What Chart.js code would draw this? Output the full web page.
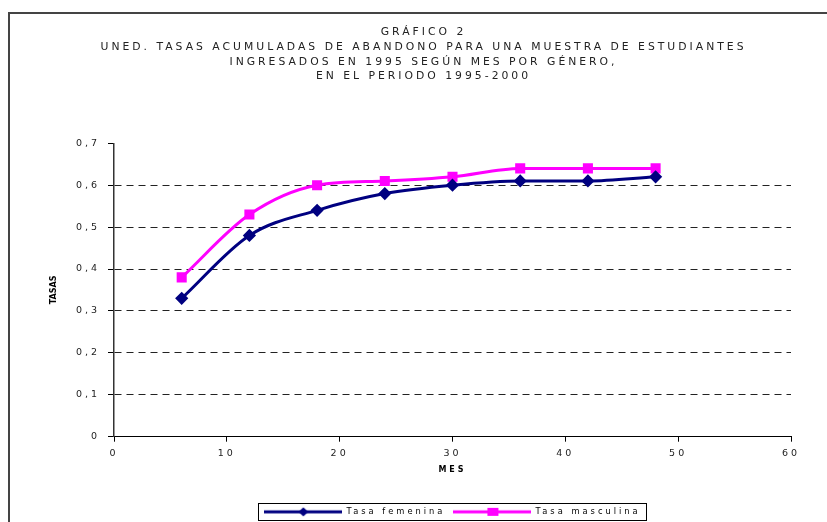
<!DOCTYPE html>
<html><head><meta charset="utf-8">
<script src="https://cdn.jsdelivr.net/npm/chart.js@4/dist/chart.umd.min.js"></script>
<style>html,body{margin:0;padding:0;background:#fff;}#wrap{width:827px;height:522px;position:relative;}</style>
</head><body><div id="wrap"><canvas id="c" width="827" height="522"></canvas></div>
<script>
const months = [6, 12, 18, 24, 30, 36, 42, 48];
const tasaFemenina = [0.33, 0.48, 0.54, 0.58, 0.60, 0.61, 0.61, 0.62];
const tasaMasculina = [0.38, 0.53, 0.60, 0.61, 0.62, 0.64, 0.64, 0.64];
const seriesNames = ['Tasa femenina', 'Tasa masculina'];
const titleLines = ['GRÁFICO 2', 'UNED. TASAS ACUMULADAS DE ABANDONO PARA UNA MUESTRA DE ESTUDIANTES', 'INGRESADOS EN 1995 SEGÚN MES POR GÉNERO,', 'EN EL PERIODO 1995-2000'];
const xTitle = 'MES';
const yTitle = 'TASAS';

const NAVY = '#000080', MAG = '#FF00FF';
function legendIcon(color, style) {
  const cv = document.createElement('canvas');
  cv.width = 78; cv.height = 12;
  const g = cv.getContext('2d');
  g.strokeStyle = color; g.lineWidth = 3;
  g.beginPath(); g.moveTo(0, 6); g.lineTo(78, 6); g.stroke();
  g.fillStyle = color;
  if (style === 'diamond') {
    g.beginPath(); g.moveTo(39, 1.5); g.lineTo(44, 6); g.lineTo(39, 10.5); g.lineTo(34, 6); g.closePath(); g.fill();
  } else {
    g.fillRect(34, 2, 11, 8);
  }
  return cv;
}
const icons = [legendIcon(NAVY, 'diamond'), legendIcon(MAG, 'square')];

const spacingPlugin = {
  id: 'spacing',
  beforeUpdate(chart) { chart.ctx.letterSpacing = '3px'; },
  afterLayout(chart) {
    if (chart.titleBlock) { chart.titleBlock.left += 23; chart.titleBlock.right += 23; }
  },
  beforeDraw(chart) {
    const ctx = chart.ctx;
    ctx.letterSpacing = '3px';
    ctx.save();
    ctx.fillStyle = '#fff'; ctx.fillRect(0, 0, chart.width, chart.height);
    ctx.strokeStyle = '#444'; ctx.lineWidth = 2;
    ctx.beginPath(); ctx.moveTo(9, 522); ctx.lineTo(9, 13); ctx.lineTo(827, 13); ctx.stroke();
    ctx.restore();
  },
  afterDraw(chart) {
    const ctx = chart.ctx;
    const ca = chart.chartArea;
    ctx.save();
    ctx.letterSpacing = '0px';
    ctx.translate(54, (ca.top + ca.bottom) / 2);
    ctx.rotate(-Math.PI / 2);
    ctx.font = 'bold 8px "DejaVu Sans", Verdana, sans-serif';
    ctx.fillStyle = '#000'; ctx.textAlign = 'center'; ctx.textBaseline = 'middle';
    ctx.fillText(yTitle, 0, 0);
    ctx.restore();
    const hb = chart.legend.legendHitBoxes;
    if (!hb || !hb.length) return;
    let l = Infinity, r = -Infinity, t = Infinity, b = -Infinity;
    hb.forEach(h => { l = Math.min(l, h.left); r = Math.max(r, h.left + h.width); t = Math.min(t, h.top); b = Math.max(b, h.top + h.height); });
    ctx.save(); ctx.strokeStyle = '#000'; ctx.lineWidth = 1;
    ctx.strokeRect(Math.round(l - 6) + 0.5, Math.round(t - 5) + 0.5, Math.round(r - l + 12), Math.round(b - t + 9));
    ctx.restore();
  }
};

Chart.defaults.font.family = '"DejaVu Sans", Verdana, sans-serif';
Chart.defaults.color = '#222';

new Chart(document.getElementById('c'), {
  type: 'line',
  data: {
    datasets: [
      { label: seriesNames[0], data: months.map((m, i) => ({ x: m, y: tasaFemenina[i] })), borderColor: NAVY, backgroundColor: NAVY, borderWidth: 3, pointStyle: 'rectRot', pointRadius: 4.5, tension: 0.4, cubicInterpolationMode: 'monotone' },
      { label: seriesNames[1], data: months.map((m, i) => ({ x: m, y: tasaMasculina[i] })), borderColor: MAG, backgroundColor: MAG, borderWidth: 3, pointStyle: 'rect', pointRadius: 5, tension: 0.4, cubicInterpolationMode: 'monotone' }
    ]
  },
  options: {
    responsive: false, animation: false,
    layout: { padding: { left: 10, right: 36, top: 25, bottom: -4 } },
    plugins: {
      tooltip: { enabled: false },
      title: { display: true, text: titleLines, font: { size: 10.8, weight: 'normal', lineHeight: 1.36 }, color: '#222', padding: { top: 0, bottom: 59.5 } },
      legend: {
        position: 'bottom', fullSize: false,
        labels: {
          usePointStyle: true, pointStyleWidth: 78, boxHeight: 10, padding: 8,
          font: { size: 8.3 }, color: '#000',
          generateLabels: (chart) => chart.data.datasets.map((d, i) => ({ text: d.label, pointStyle: icons[i], datasetIndex: i, fillStyle: d.borderColor, strokeStyle: d.borderColor, lineWidth: 0, hidden: false, fontColor: '#000' }))
        }
      }
    },
    scales: {
      x: {
        type: 'linear', min: 0, max: 60,
        ticks: { stepSize: 10, font: { size: 9.5 }, color: '#222', padding: 6 },
        grid: { drawOnChartArea: false, drawTicks: true, tickLength: 5, tickColor: '#000' },
        border: { color: '#000', width: 1 },
        title: { display: true, text: xTitle, font: { size: 8, weight: 'bold' }, color: '#000', padding: { top: 4, bottom: 25 } },
        afterFit: (s) => { s.height = 63; }
      },
      y: {
        min: 0, max: 0.7,
        ticks: { stepSize: 0.1, font: { size: 9.5 }, color: '#222', padding: 8, callback: (v) => v === 0 ? '0' : v.toFixed(1).replace('.', ',') },
        grid: { color: (c) => (c.tick && (c.tick.value === 0 || Math.abs(c.tick.value - 0.7) < 1e-9)) ? 'rgba(0,0,0,0)' : '#222', tickColor: '#000', tickLength: 6, lineWidth: 1 },
        border: { color: '#333', width: 1.5, dash: [7, 5] },
        title: { display: false },
        afterFit: (s) => { s.width = 104; }
      }
    }
  },
  plugins: [spacingPlugin]
});
</script></body></html>
